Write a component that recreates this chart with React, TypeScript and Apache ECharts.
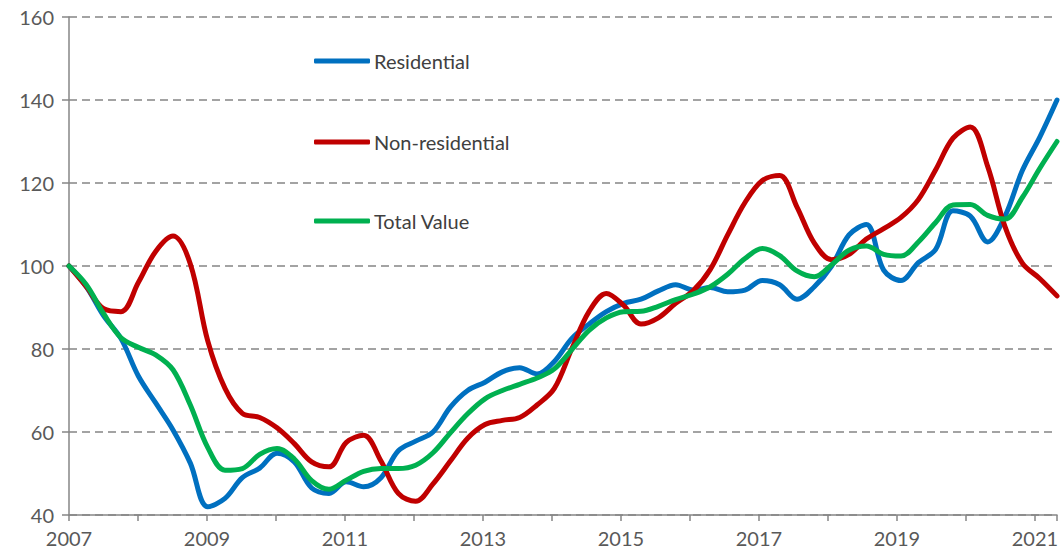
import React, { useEffect, useRef } from "react";
import * as echarts from "echarts";

// Quarterly index values, 2007 Q1 = 100
const residential = [
  100, 95, 88, 82.5, 73.5, 67, 60.5, 52.5, 42, 44,
  49, 51.3, 54.9, 52.8, 46.5, 45.2, 48, 46.8, 49, 55.5,
  57.8, 60, 66, 70, 72, 74.5, 75.5, 74, 77, 82.5,
  86, 89, 91, 92, 94, 95.5, 94.2, 94.8, 93.8, 94.2,
  96.5, 95.5, 92, 95, 100, 107.5, 110, 99, 96.5, 100.8,
  104, 113.3, 112, 105.8, 112, 123, 131, 140,
];
const nonResidential = [
  100, 95, 89.7, 89, 96, 103.5, 107.2, 100.5, 82, 70.5,
  64.5, 63.5, 61, 57.2, 52.8, 51.6, 57.5, 59.2, 53, 45.2,
  43.3, 47.5, 53, 58.5, 61.8, 62.8, 63.5, 66.5, 70.5, 80,
  89, 93.4, 90.5, 86, 87.5, 91, 94, 99.2, 107.5, 115.3,
  120.6, 121.8, 114.2, 105.5, 101.5, 102.8, 106.5, 109, 111.7, 116,
  123.2, 130.8, 133.5, 124, 109.5, 100.7, 97, 92.8,
];
const totalValue = [
  100, 95.5, 88.5, 82.7, 80.4, 78.6, 75, 66.5, 56.3, 50.8,
  51.2, 54.6, 56, 53.5, 48.3, 46.2, 48.4, 50.5, 51.2, 51.2,
  52, 55, 59.8, 64.4, 68, 70, 71.5, 73, 75.2, 79.8,
  84.5, 87.5, 89, 89.1, 90.3, 91.9, 93.2, 95, 98, 101.8,
  104.2, 102.5, 98.8, 97.4, 100.3, 103.8, 104.8, 102.8, 102.4, 105.8,
  110.5, 114.7, 114.8, 112.2, 111.3, 116.5, 123.5, 130,
];

const seriesNames = ["Residential", "Non-residential", "Total Value"];
const seriesColors = ["#0070C0", "#C00000", "#00B050"];
const startYear = 2007;
const endYear = 2021.32;
const yTicks = [40, 60, 80, 100, 120, 140, 160];

function toPoints(values: number[]) {
  const step = (endYear - startYear) / (values.length - 1);
  return values.map((v, i) => [startYear + i * step, v]);
}

export default function App() {
  const ref = useRef<HTMLDivElement>(null);

  useEffect(() => {
    if (!ref.current) return;
    const chart = echarts.init(ref.current, null, { renderer: "svg" });
    const allValues = [residential, nonResidential, totalValue];
    const legendTops = [50, 131, 210];
    chart.setOption({
      animation: false,
      backgroundColor: "#ffffff",
      textStyle: { fontFamily: "Lato" },
      grid: { left: 69, right: 6, top: 17, bottom: 45, containLabel: false },
      legend: seriesNames.map((name, i) => ({
        data: [name],
        orient: "vertical",
        left: 314,
        top: legendTops[i],
        padding: 0,
        itemWidth: 56,
        itemHeight: 5,
        itemGap: 0,
        icon: "roundRect",
        selectedMode: false,
        textStyle: {
          fontFamily: "Lato",
          fontSize: 20,
          color: "#404040",
          padding: [0, 0, 0, -1],
          lineHeight: 22,
        },
      })),
      xAxis: {
        type: "value",
        min: startYear,
        max: endYear,
        interval: 1,
        axisLine: { show: true, lineStyle: { color: "#868686", width: 1.5 } },
        axisTick: { show: true, length: 6, lineStyle: { color: "#868686", width: 1.5 } },
        splitLine: { show: false },
        axisLabel: {
          color: "#595959",
          fontSize: 20,
          fontFamily: "Lato",
          margin: 13,
          formatter: (v: number) =>
            Number.isInteger(v) && v % 2 === 1 ? String(v) : "",
        },
      },
      yAxis: {
        type: "value",
        min: yTicks[0],
        max: yTicks[yTicks.length - 1],
        interval: 20,
        axisLine: { show: true, lineStyle: { color: "#868686", width: 1.5 } },
        axisTick: { show: true, inside: false, length: 7, lineStyle: { color: "#868686", width: 1.5 } },
        splitLine: {
          show: true,
          lineStyle: { color: "#858585", width: 1.5, type: [8, 5] },
        },
        axisLabel: {
          color: "#595959",
          fontSize: 20,
          fontFamily: "Lato",
          margin: 15,
        },
      },
      series: seriesNames.map((name, i) => ({
        name,
        type: "line",
        data: toPoints(allValues[i]),
        smooth: 0.35,
        showSymbol: false,
        symbol: "none",
        lineStyle: { color: seriesColors[i], width: 5, cap: "round", join: "round" },
        itemStyle: { color: seriesColors[i] },
        z: 2 + i,
      })),
    });
    return () => chart.dispose();
  }, []);

  return (
    <div
      ref={ref}
      style={{ position: "fixed", left: 0, top: 0, width: 1063, height: 560 }}
    />
  );
}
